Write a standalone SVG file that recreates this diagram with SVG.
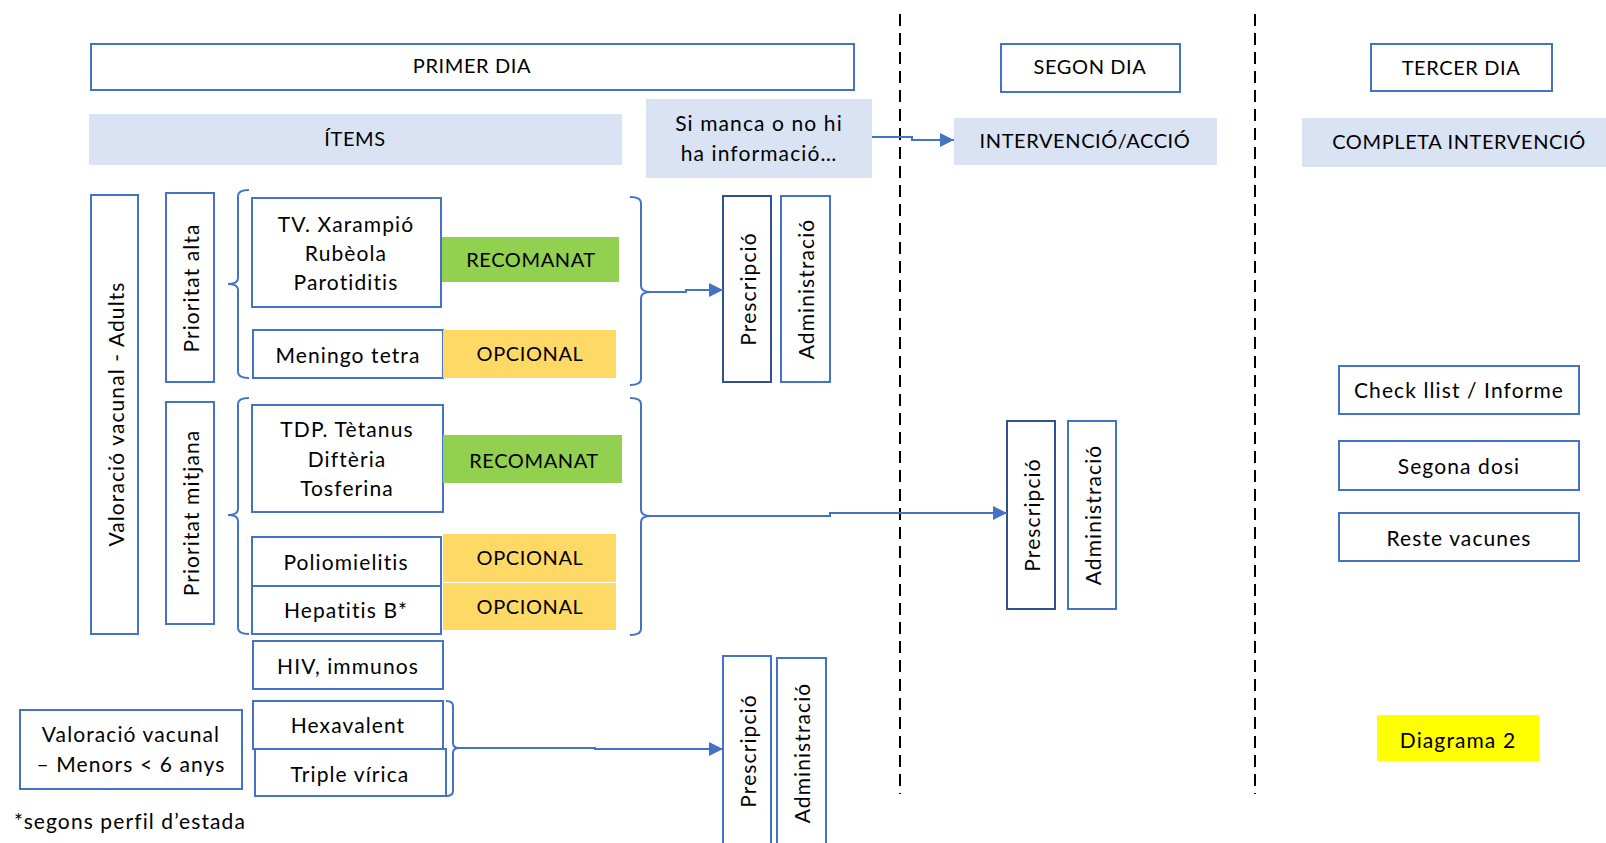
<svg xmlns="http://www.w3.org/2000/svg" width="1606" height="843" viewBox="0 0 1606 843">
<defs>
<style>
.b{fill:#fff;stroke:#4472C4;stroke-width:2}
.bd{fill:#fff;stroke:#2F528F;stroke-width:2}
.lb{fill:#DAE3F3}
.g{fill:#92D050}
.y{fill:#FFD966}
.t{font-family:"Lato","Liberation Sans",sans-serif;font-size:21px;fill:#000;text-anchor:middle;dominant-baseline:central;letter-spacing:1.1px}
.u{font-family:"Lato","Liberation Sans",sans-serif;font-size:20px;fill:#000;text-anchor:middle;dominant-baseline:central;letter-spacing:0.6px}
.c{fill:none;stroke:#4472C4;stroke-width:2}
.d{fill:none;stroke:#000;stroke-width:2;stroke-dasharray:12 7}
</style>
<marker id="ah" viewBox="0 0 10 10" refX="10" refY="5" markerWidth="7" markerHeight="7" orient="auto" markerUnits="strokeWidth"><path d="M0,0 L10,5 L0,10 z" fill="#4472C4"/></marker>
</defs>
<rect width="1606" height="843" fill="#fff"/>

<g id="dividers">
<line class="d" x1="900" y1="14" x2="900" y2="794"/>
<line class="d" x1="1255" y1="14" x2="1255" y2="794"/>
</g>

<g id="primer-dia"><rect class="b" x="91" y="44" width="763" height="46"/><text class="u" x="472" y="65">PRIMER DIA</text></g>
<g id="items"><rect class="lb" x="89" y="114" width="533" height="51"/><text class="u" x="355" y="138">ÍTEMS</text></g>
<g id="si-manca"><rect class="lb" x="646" y="99" width="226" height="79"/><text class="t" x="759" y="122">Si manca o no hi</text><text class="t" x="759" y="152">ha informació…</text></g>
<g id="segon-dia"><rect class="b" x="1001" y="44" width="179" height="48"/><text class="u" x="1090" y="66">SEGON DIA</text></g>
<g id="intervencio"><rect class="lb" x="954" y="118" width="263" height="47"/><text class="u" x="1085" y="140">INTERVENCIÓ/ACCIÓ</text></g>
<g id="tercer-dia"><rect class="b" x="1371" y="44" width="181" height="47"/><text class="u" x="1461" y="67">TERCER DIA</text></g>
<g id="completa"><rect class="lb" x="1302" y="118" width="304" height="49"/><text class="u" x="1459" y="141">COMPLETA INTERVENCIÓ</text></g>

<g id="valoracio-adults"><rect class="b" x="91" y="195" width="47" height="439"/><text class="t" x="115" y="414" transform="rotate(-90 115 414)">Valoració vacunal - Adults</text></g>
<g id="prioritat-alta"><rect class="b" x="166" y="193" width="48" height="189"/><text class="t" x="190" y="288" transform="rotate(-90 190 288)">Prioritat alta</text></g>
<g id="prioritat-mitjana"><rect class="b" x="166" y="402" width="48" height="222"/><text class="t" x="190" y="513" transform="rotate(-90 190 513)">Prioritat mitjana</text></g>

<g id="tv"><rect class="b" x="252" y="198" width="189" height="109"/><text class="t" x="346" y="223">TV. Xarampió</text><text class="t" x="346" y="252">Rubèola</text><text class="t" x="346" y="281">Parotiditis</text></g>
<g id="recomanat-1"><rect class="g" x="442" y="237" width="177" height="45"/><text class="u" x="531" y="259">RECOMANAT</text></g>
<g id="meningo"><rect class="b" x="253" y="330" width="190" height="48"/><text class="t" x="348" y="354">Meningo tetra</text></g>
<g id="opcional-1"><rect class="y" x="443" y="330" width="173" height="48"/><text class="u" x="530" y="353">OPCIONAL</text></g>

<g id="tdp"><rect class="b" x="252" y="405" width="191" height="107"/><text class="t" x="347" y="428">TDP. Tètanus</text><text class="t" x="347" y="458">Diftèria</text><text class="t" x="347" y="487">Tosferina</text></g>
<g id="recomanat-2"><rect class="g" x="443" y="435" width="179" height="48"/><text class="u" x="534" y="460">RECOMANAT</text></g>
<g id="polio"><rect class="b" x="252" y="537" width="189" height="49"/><text class="t" x="346" y="561">Poliomielitis</text></g>
<g id="opcional-2"><rect class="y" x="443" y="534" width="173" height="48"/><text class="u" x="530" y="557">OPCIONAL</text></g>
<g id="hepatitis"><rect class="b" x="252" y="586" width="189" height="48"/><text class="t" x="346" y="609">Hepatitis B*</text></g>
<g id="opcional-3"><rect class="y" x="443" y="583" width="173" height="47"/><text class="u" x="530" y="606">OPCIONAL</text></g>

<g id="hiv"><rect class="b" x="253" y="641" width="190" height="48"/><text class="t" x="348" y="665">HIV, immunos</text></g>
<g id="hexavalent"><rect class="b" x="253" y="701" width="190" height="48"/><text class="t" x="348" y="724">Hexavalent</text></g>
<g id="triple"><rect class="b" x="255" y="749" width="191" height="47"/><text class="t" x="350" y="773">Triple vírica</text></g>
<g id="valoracio-menors"><rect class="b" x="20" y="710" width="222" height="79"/><text class="t" x="131" y="733">Valoració vacunal</text><text class="t" x="131" y="763">– Menors &lt; 6 anys</text></g>
<g id="nota"><text class="t" x="14" y="820" style="text-anchor:start">*segons perfil d’estada</text></g>

<g id="prescripcio-1"><rect class="bd" x="723" y="196" width="48" height="186"/><text class="t" x="747" y="289" transform="rotate(-90 747 289)">Prescripció</text></g>
<g id="administracio-1"><rect class="b" x="781" y="196" width="49" height="186"/><text class="t" x="805" y="289" transform="rotate(-90 805 289)">Administració</text></g>
<g id="prescripcio-2"><rect class="bd" x="1007" y="421" width="48" height="188"/><text class="t" x="1031" y="515" transform="rotate(-90 1031 515)">Prescripció</text></g>
<g id="administracio-2"><rect class="b" x="1068" y="421" width="48" height="188"/><text class="t" x="1092" y="515" transform="rotate(-90 1092 515)">Administració</text></g>
<g id="prescripcio-3"><rect class="b" x="723" y="656" width="48" height="195"/><text class="t" x="747" y="751" transform="rotate(-90 747 751)">Prescripció</text></g>
<g id="administracio-3"><rect class="b" x="777" y="658" width="49" height="193"/><text class="t" x="801" y="753" transform="rotate(-90 801 753)">Administració</text></g>

<g id="checklist"><rect class="b" x="1339" y="366" width="240" height="48"/><text class="t" x="1459" y="389">Check llist / Informe</text></g>
<g id="segona-dosi"><rect class="b" x="1339" y="441" width="240" height="49"/><text class="t" x="1459" y="465">Segona dosi</text></g>
<g id="reste"><rect class="b" x="1339" y="513" width="240" height="48"/><text class="t" x="1459" y="537">Reste vacunes</text></g>
<g id="diagrama"><rect x="1377" y="715" width="162" height="46" fill="#FFFF00"/><text class="t" x="1458" y="739">Diagrama 2</text></g>

<g id="connectors">
<path class="c" d="M249,190 Q238,190 238,196 L238,278 Q238,284 228,284 Q238,284 238,290 L238,372 Q238,378 249,378"/>
<path class="c" d="M630,197 Q641,197 641,203 L641,286 Q641,292 651,292 Q641,292 641,298 L641,379 Q641,385 630,385"/>
<path class="c" d="M249,398 Q238,398 238,404 L238,509 Q238,515 228,515 Q238,515 238,521 L238,628 Q238,634 249,634"/>
<path class="c" d="M630,398 Q641,398 641,404 L641,510 Q641,516 651,516 Q641,516 641,522 L641,629 Q641,635 630,635"/>
<path class="c" d="M446,701 Q453,701 453,706 L453,743 Q453,748 459,748 Q453,748 453,753 L453,791 Q453,796 446,796"/>
<path class="c" marker-end="url(#ah)" d="M651,292 L686,292 L686,290 L723,290"/>
<path class="c" marker-end="url(#ah)" d="M651,516 L830,516 L830,513 L1007,513"/>
<path class="c" marker-end="url(#ah)" d="M459,748 L595,748 L595,749 L723,749"/>
<path class="c" marker-end="url(#ah)" d="M872,137 L912,137 L912,140 L954,140"/>
</g>
</svg>
